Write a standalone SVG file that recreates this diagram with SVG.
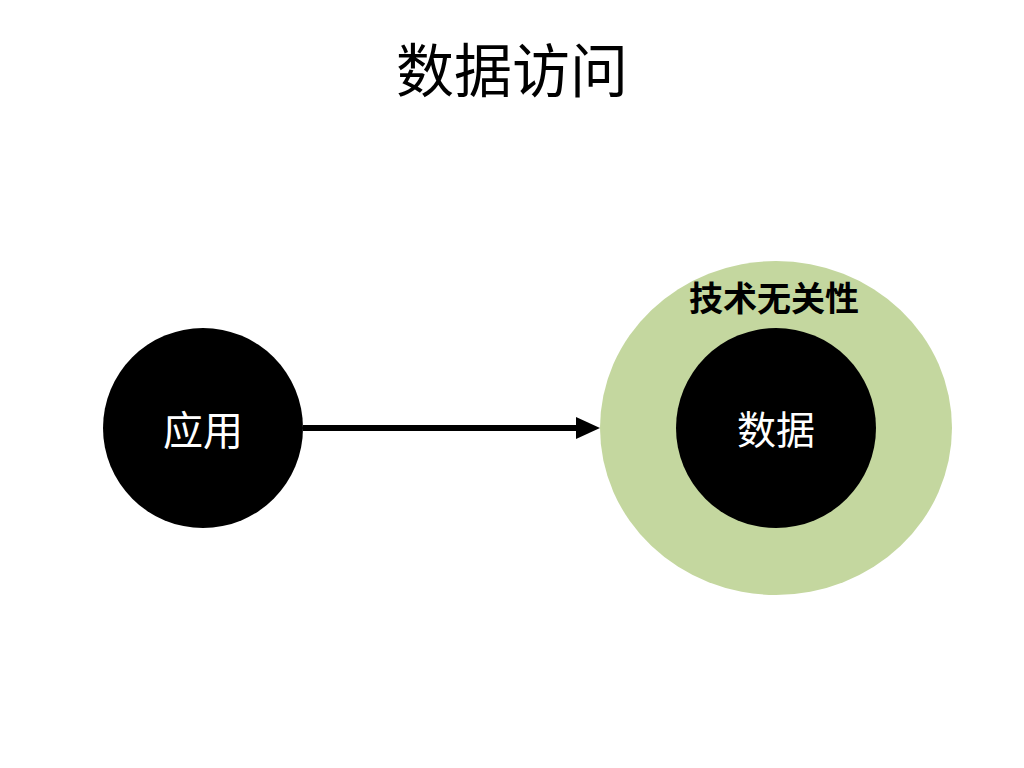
<svg xmlns="http://www.w3.org/2000/svg" width="1024" height="768" viewBox="0 0 1024 768">
<defs>
<style>
.t{font-family:"Noto Sans CJK SC","Noto Sans",sans-serif;text-anchor:middle;dominant-baseline:central}
</style>
<marker id="ah" markerUnits="userSpaceOnUse" markerWidth="24" markerHeight="22" refX="1" refY="11" orient="auto">
<path d="M0,0 L24,11 L0,22 Z" fill="#000"/>
</marker>
</defs>
<rect width="1024" height="768" fill="#fff"/>
<text class="t" x="512" y="67" font-size="58" fill="#000">数据访问</text>
<g id="tech">
<ellipse cx="776" cy="428" rx="176" ry="167" fill="#c4d79f"/>
<text class="t" x="774" y="296" font-size="34" font-weight="bold" fill="#000">技术无关性</text>
</g>
<g id="app">
<circle cx="203" cy="428" r="100" fill="#000"/>
<text class="t" x="203" y="428" font-size="40" fill="#fff">应用</text>
</g>
<g id="data">
<circle cx="776" cy="428" r="100" fill="#000"/>
<text class="t" x="776" y="427" font-size="39" fill="#fff">数据</text>
</g>
<g id="connectors">
<line x1="303" y1="428" x2="577" y2="428" stroke="#000" stroke-width="6" marker-end="url(#ah)"/>
</g>
</svg>
